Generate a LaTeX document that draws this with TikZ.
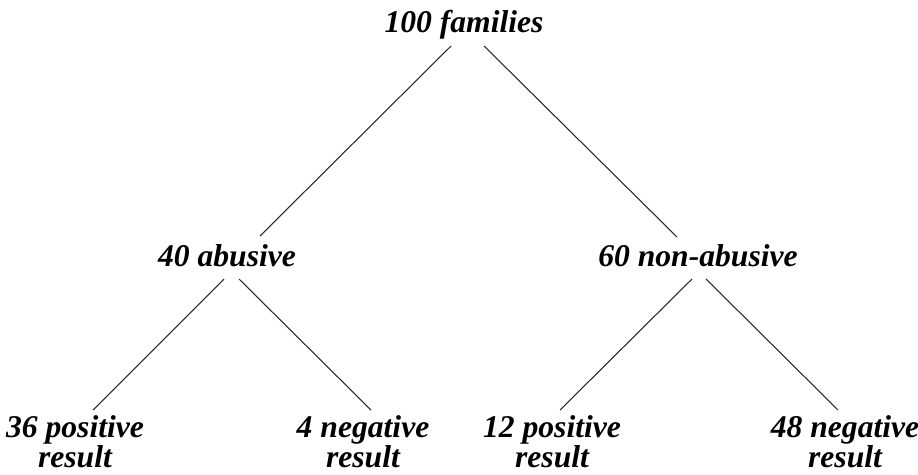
\documentclass[tikz,border=0pt]{standalone}
\usepackage{fontspec}
\setmainfont{Liberation Serif}
\usetikzlibrary{positioning, calc}
\tikzset{
  rotulo/.style={font=\fontsize{18pt}{17pt}\selectfont\bfseries\itshape, inner sep=0pt,
                 anchor=base, align=center},
  rama/.style={line width=0.6pt, color=black!85}
}

\begin{document}
\begin{tikzpicture}[x=0.02cm, y=-0.02cm]
  \useasboundingbox (0,0) rectangle (918,474);
  \node (fam) [rotulo] at (464,32) {100 families};
  \node (abu) [rotulo] at (227,266) {40 abusive};
  \node (noabu) [rotulo] at (698,266) {60 non-abusive};
  % nodos de dos lineas: base = ultima linea
  \node (abupos) [rotulo] at (75,467) {36 positive\\ result};
  \node (abuneg) [rotulo] at (363,467) {4 negative\\ result};
  \node (noabupos) [rotulo] at (552,467) {12 positive\\ result};
  \node (noabuneg) [rotulo] at (845,467) {48 negative\\ result};
  \draw [rama] ([shift={(-13,14)}]fam.base) -- ([shift={(33,-30)}]abu.base);
  \draw [rama] ([shift={(20,14)}]fam.base) -- ([shift={(-21,-29)}]noabu.base);
  \draw [rama] ([shift={(-3,13)}]abu.base) -- ([shift={(18,-57)}]abupos.base);
  \draw [rama] ([shift={(12,13)}]abu.base) -- ([shift={(8,-57)}]abuneg.base);
  \draw [rama] ([shift={(-6,13)}]noabu.base) -- ([shift={(8,-57)}]noabupos.base);
  \draw [rama] ([shift={(8,13)}]noabu.base) -- ([shift={(-7,-57)}]noabuneg.base);
\end{tikzpicture}
\end{document}
